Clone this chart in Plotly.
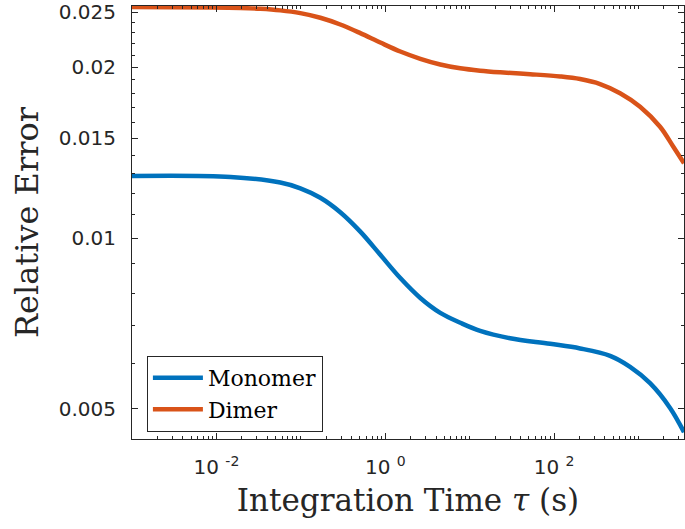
import math
import plotly.graph_objects as go

# Integration time tau (s) and relative error
tau_mono = [1e-3, 0.0147, 0.0571, 0.0986, 0.170, 0.293, 0.506, 0.873, 1.506, 2.60,
            4.48, 7.73, 13.3, 30.1, 89.7, 203, 460, 793, 1368, 2360, 3452]
err_mono = [0.01286, 0.01281, 0.01252, 0.01223, 0.01177, 0.01110, 0.01026, 0.00934,
            0.00850, 0.00784, 0.00738, 0.00709, 0.00686, 0.00666, 0.00651, 0.00639,
            0.00620, 0.00593, 0.00555, 0.00502, 0.00455]

tau_dim = [1e-3, 0.00849, 0.0192, 0.0332, 0.0571, 0.0986, 0.170, 0.293, 0.506, 0.873,
           1.506, 2.60, 4.48, 7.73, 13.3, 23.0, 52.1, 118, 203, 350, 604, 1042, 1796,
           2558, 3452]
err_dim = [0.02551, 0.02546, 0.02541, 0.02533, 0.02517, 0.02489, 0.02443, 0.02377,
           0.02295, 0.02209, 0.02130, 0.02068, 0.02021, 0.01990, 0.01971, 0.01958,
           0.01943, 0.01925, 0.01905, 0.01867, 0.01799, 0.01703, 0.01570, 0.01451,
           0.01354]

x_tickvals = [1e-2, 1, 1e2]
x_ticktext = ["10 <sup>-2</sup>", "10 <sup>0</sup>", "10 <sup>2</sup>"]
y_tickvals = [0.005, 0.01, 0.015, 0.02, 0.025]
y_ticktext = ["0.005", "0.01", "0.015", "0.02", "0.025"]

X_MIN, X_MAX = 1e-3, 3452
Y_MIN, Y_MAX = 0.004426, 0.02562

x_minor = [k * 10.0 ** d for d in range(-3, 4) for k in range(1, 10) if k * 10.0 ** d <= X_MAX]
y_minor = [round(0.001 * k, 3) for k in range(5, 26)]

BLUE = "#0072BD"
ORANGE = "#D95319"
AX = "#262626"

fig = go.Figure()
fig.add_trace(go.Scatter(x=tau_mono, y=err_mono, mode="lines", name="Monomer",
                         line=dict(color=BLUE, width=4.5, shape="spline", smoothing=1.0)))
fig.add_trace(go.Scatter(x=tau_dim, y=err_dim, mode="lines", name="Dimer",
                         line=dict(color=ORANGE, width=4.5, shape="spline", smoothing=1.0)))

tickfont = dict(family="DejaVu Sans, sans-serif", size=20, color=AX)
titlefont = dict(family="DejaVu Serif, serif", size=31, color=AX)

fig.update_xaxes(
    type="log", range=[math.log10(X_MIN), math.log10(X_MAX)],
    tickmode="array", tickvals=x_tickvals, ticktext=x_ticktext,
    ticks="inside", ticklen=6, tickcolor=AX, tickwidth=1, ticklabelstandoff=10,
    minor=dict(ticks="inside", ticklen=3, tickcolor=AX, tickmode="array",
               tickvals=x_minor, showgrid=False),
    showline=True, linecolor=AX, linewidth=1, mirror="ticks",
    showgrid=False, zeroline=False, tickfont=tickfont,
    title=dict(text="Integration Time <i>τ</i> (s)", font=titlefont, standoff=11),
)
fig.update_yaxes(
    type="log", range=[math.log10(Y_MIN), math.log10(Y_MAX)],
    tickmode="array", tickvals=y_tickvals, ticktext=y_ticktext,
    ticks="inside", ticklen=6, tickcolor=AX, tickwidth=1, ticklabelstandoff=11,
    minor=dict(ticks="inside", ticklen=3, tickcolor=AX, tickmode="array",
               tickvals=y_minor, showgrid=False),
    showline=True, linecolor=AX, linewidth=1, mirror="ticks",
    showgrid=False, zeroline=False, tickfont=tickfont,
    title=dict(text="Relative Error", font=dict(family="DejaVu Serif, serif", size=32, color=AX),
               standoff=10),
)

fig.update_layout(
    width=685, height=529,
    margin=dict(l=132, r=1, t=6, b=90),
    plot_bgcolor="white", paper_bgcolor="white",
    legend=dict(x=0.027, y=0.192, xanchor="left", yanchor="top",
                bgcolor="white", bordercolor=AX, borderwidth=1,
                font=dict(family="DejaVu Serif, serif", size=22, color="black"),
                itemwidth=50, tracegroupgap=0),
    showlegend=True,
)

fig.write_html("out.html")
